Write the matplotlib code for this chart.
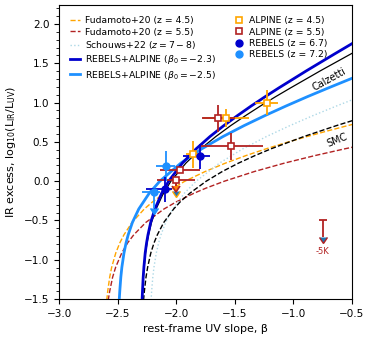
import matplotlib
matplotlib.use("Agg")
import matplotlib.pyplot as plt
from matplotlib.lines import Line2D

# IRX-beta relations, points (beta, IRX)
fud45_beta = [-2.603, -2.592, -2.585, -2.568, -2.551, -2.516, -2.481, -2.446, -2.377, -2.273,
              -2.203, -2.099, -1.926, -1.752, -1.578, -1.405, -1.231, -1.058, -0.884, -0.710,
              -0.537, -0.189]
fud45_irx = [-1.703, -1.498, -1.400, -1.221, -1.094, -0.913, -0.783, -0.681, -0.524, -0.354,
             -0.264, -0.152, 0.000, 0.124, 0.231, 0.326, 0.413, 0.493, 0.568, 0.639,
             0.707, 0.836]

fud55_beta = [-2.594, -2.579, -2.568, -2.543, -2.517, -2.465, -2.414, -2.362, -2.259, -2.105,
              -2.001, -1.847, -1.744, -1.589, -1.331, -1.074, -0.816, -0.558, -0.300]
fud55_irx = [-1.703, -1.498, -1.400, -1.221, -1.094, -0.913, -0.783, -0.681, -0.524, -0.354,
             -0.264, -0.152, -0.087, 0.000, 0.124, 0.231, 0.326, 0.413, 0.493]

schouws_beta = [-2.220, -2.214, -2.210, -2.200, -2.190, -2.170, -2.150, -2.130, -2.090, -2.030,
                -1.930, -1.830, -1.630, -1.430, -1.230, -1.030, -0.830, -0.630, -0.430]
schouws_irx = [-1.703, -1.498, -1.400, -1.221, -1.094, -0.913, -0.783, -0.681, -0.524, -0.354,
               -0.152, 0.000, 0.231, 0.413, 0.568, 0.707, 0.836, 0.958, 1.075]

calz_beta = [-2.294, -2.290, -2.287, -2.281, -2.274, -2.262, -2.249, -2.236, -2.211, -2.172,
             -2.109, -2.045, -1.917, -1.790, -1.662, -1.535, -1.407, -1.280, -1.152, -1.024,
             -0.769, -0.514, -0.259]
calz_irx = [-1.703, -1.498, -1.400, -1.221, -1.094, -0.913, -0.783, -0.681, -0.524, -0.354,
            -0.152, 0.000, 0.231, 0.413, 0.568, 0.707, 0.836, 0.958, 1.075, 1.187,
            1.405, 1.615, 1.822]

smc_beta = [-2.286, -2.278, -2.272, -2.258, -2.244, -2.217, -2.189, -2.161, -2.106, -2.022,
            -1.967, -1.883, -1.744, -1.606, -1.467, -1.328, -1.189, -0.911, -0.633, -0.356]
smc_irx = [-1.703, -1.498, -1.400, -1.221, -1.094, -0.913, -0.783, -0.681, -0.524, -0.354,
           -0.264, -0.152, 0.000, 0.124, 0.231, 0.326, 0.413, 0.568, 0.707, 0.836]

fit23_beta = [-2.294, -2.291, -2.288, -2.282, -2.276, -2.265, -2.253, -2.241, -2.218, -2.182,
              -2.124, -2.065, -1.947, -1.829, -1.712, -1.594, -1.476, -1.359, -1.241, -1.124,
              -0.888, -0.653, -0.418]
fit23_irx = calz_irx

fit25_beta = [-2.491, -2.486, -2.482, -2.473, -2.464, -2.446, -2.428, -2.410, -2.374, -2.320,
              -2.230, -2.140, -1.960, -1.781, -1.601, -1.421, -1.241, -1.061, -0.881, -0.701,
              -0.342]
fit25_irx = [-1.703, -1.498, -1.400, -1.221, -1.094, -0.913, -0.783, -0.681, -0.524, -0.354,
             -0.152, 0.000, 0.231, 0.413, 0.568, 0.707, 0.836, 0.958, 1.075, 1.187,
             1.405]

# ALPINE z=4.5 detections
a45_beta = [-1.228, -1.575, -1.855]
a45_irx = [1.00, 0.805, 0.34]
a45_xerr = [0.10, 0.20, 0.06]
a45_yerr = [0.16, 0.11, 0.17]
# ALPINE z=4.5 upper limit
a45ul_beta = [-2.00]
a45ul_irx = [-0.02]
a45ul_yerr = [0.10]

# ALPINE z=5.5
a55_beta = [-1.64, -1.535, -1.97]
a55_irx = [0.80, 0.445, 0.14]
a55_xlo = [0.14, 0.25, 0.17]
a55_xhi = [0.14, 0.28, 0.17]
a55_yerr = [0.17, 0.17, 0.04]
a55ul_beta = [-2.00]
a55ul_irx = [0.013]
a55ul_xerr = [0.16]
a55ul_yerr = [0.08]

# REBELS z=6.7
r67_beta = [-1.80, -2.10]
r67_irx = [0.315, -0.105]
r67_xlo = [0.14, 0.16]
r67_xhi = [0.09, 0.06]
r67_yerr = [0.16, 0.16]

# REBELS z=7.2
r72_beta = [-2.09]
r72_irx = [0.19]
r72_xerr = [0.08]
r72_yerr = [0.19]
r72ul_beta = [-2.19]
r72ul_irx = [-0.135]
r72ul_xlo = [0.10]
r72ul_xhi = [0.05]
r72ul_yerr = [0.20]

# stacked upper limit ("-5K")
k5_beta = [-0.75]
k5_irx = [-0.5]
k5_yerr = [0.21]

ORANGE, RED = "orange", "firebrick"
DBLUE, LBLUE = "mediumblue", "dodgerblue"

fig = plt.figure(figsize=(3.74, 3.43), dpi=100)
ax = fig.add_axes([0.158, 0.128, 0.783, 0.857])

ax.plot(fud45_beta, fud45_irx, ls="--", color=ORANGE, lw=1.0, zorder=2)
ax.plot(fud55_beta, fud55_irx, ls="--", color=RED, lw=1.0, zorder=2)
ax.plot(schouws_beta, schouws_irx, ls=":", color="lightblue", lw=1.0, zorder=2)
ax.plot(smc_beta, smc_irx, ls="--", color="k", lw=1.0, zorder=2)
ax.plot(calz_beta, calz_irx, ls="-", color="k", lw=0.9, zorder=2)
ax.plot(fit25_beta, fit25_irx, ls="-", color=LBLUE, lw=2.0, zorder=3)
ax.plot(fit23_beta, fit23_irx, ls="-", color=DBLUE, lw=2.0, zorder=3)

ax.text(-0.69, 1.29, "Calzetti", rotation=29, ha="center", va="center", fontsize=7)
ax.text(-0.63, 0.52, "SMC", rotation=22, ha="center", va="center", fontsize=7)

eb = dict(elinewidth=1.3, capsize=0, zorder=5)
ax.errorbar(a45ul_beta, a45ul_irx, yerr=a45ul_yerr, uplims=True, fmt="none", ecolor=ORANGE, **eb)
ax.errorbar(a45_beta, a45_irx, xerr=a45_xerr, yerr=a45_yerr, fmt="s", ms=5, mfc="white",
            mec=ORANGE, mew=1.2, ecolor=ORANGE, **eb)
ax.errorbar(a55ul_beta, a55ul_irx, xerr=a55ul_xerr, yerr=a55ul_yerr, uplims=True, fmt="s",
            ms=5, mfc="white", mec=RED, mew=1.2, ecolor=RED, **eb)
ax.errorbar(a55_beta, a55_irx, xerr=[a55_xlo, a55_xhi], yerr=a55_yerr, fmt="s", ms=5,
            mfc="white", mec=RED, mew=1.2, ecolor=RED, **eb)
ax.errorbar(r72ul_beta, r72ul_irx, xerr=[r72ul_xlo, r72ul_xhi], yerr=r72ul_yerr, uplims=True,
            fmt="o", ms=5, color=LBLUE, **eb)
ax.errorbar(r72_beta, r72_irx, xerr=r72_xerr, yerr=r72_yerr, fmt="o", ms=5, color=LBLUE, **eb)
ax.errorbar(r67_beta, r67_irx, xerr=[r67_xlo, r67_xhi], yerr=r67_yerr, fmt="o", ms=5,
            color=DBLUE, **eb)

ax.errorbar(k5_beta, k5_irx, yerr=k5_yerr, uplims=True, fmt="none", ecolor=RED, elinewidth=1.3)
ax.plot(k5_beta, k5_irx, marker="_", ms=6, mew=1.3, color=RED, ls="none")
ax.text(k5_beta[0], -0.9, "-5K", color=RED, fontsize=6, ha="center", va="center")

handles = [
    Line2D([], [], ls="--", color=ORANGE, lw=1.0),
    Line2D([], [], ls="--", color=RED, lw=1.0),
    Line2D([], [], ls=":", color="lightblue", lw=1.0),
    Line2D([], [], ls="-", color=DBLUE, lw=2.0),
    Line2D([], [], ls="-", color=LBLUE, lw=2.0),
    Line2D([], [], ls="none", marker="s", ms=5, mfc="white", mec=ORANGE, mew=1.2),
    Line2D([], [], ls="none", marker="s", ms=5, mfc="white", mec=RED, mew=1.2),
    Line2D([], [], ls="none", marker="o", ms=5, color=DBLUE),
    Line2D([], [], ls="none", marker="o", ms=5, color=LBLUE),
]
labels = [
    "Fudamoto+20 (z = 4.5)",
    "Fudamoto+20 (z = 5.5)",
    "Schouws+22 ($z = 7-8$)",
    r"REBELS+ALPINE ($\beta_0 = -2.3$)",
    r"REBELS+ALPINE ($\beta_0 = -2.5$)",
    "ALPINE (z = 4.5)",
    "ALPINE (z = 5.5)",
    "REBELS (z = 6.7)",
    "REBELS (z = 7.2)",
]
ax.legend(handles, labels, ncol=2, loc="upper left", frameon=False, fontsize=6.7,
          handlelength=1.0, handletextpad=0.6, columnspacing=1.9, labelspacing=0.25,
          borderaxespad=0.8)

ax.set_xlim(-3.0, -0.5)
ax.set_ylim(-1.5, 2.24)
ax.set_xticks([-3.0, -2.5, -2.0, -1.5, -1.0, -0.5])
ax.set_yticks([-1.5, -1.0, -0.5, 0.0, 0.5, 1.0, 1.5, 2.0])
ax.set_yticks([v / 10 for v in range(-15, 23)], minor=True)
ax.tick_params(labelsize=7.5)
ax.set_xlabel("rest-frame UV slope, β", fontsize=8)
ax.set_ylabel(r"IR excess, log$_{10}$(L$_{\rm IR}$/L$_{\rm UV}$)", fontsize=8)

fig.savefig("out.png", dpi=100)
